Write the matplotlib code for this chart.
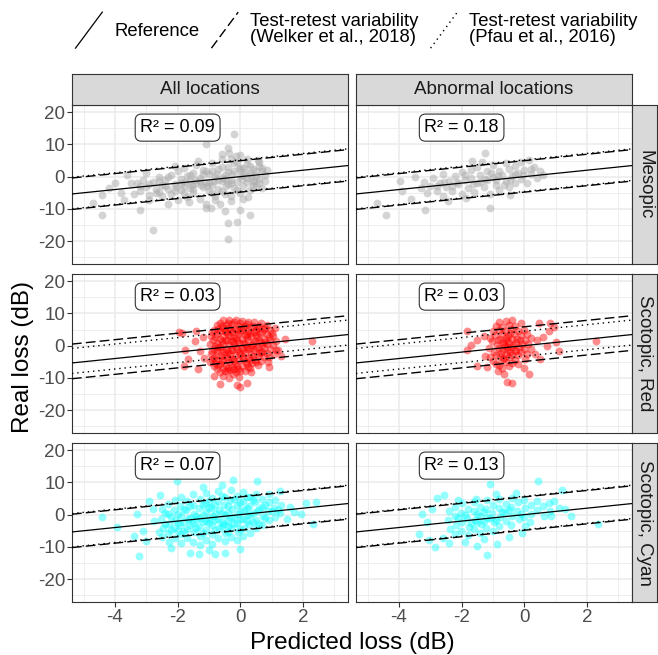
"""Predicted vs. real loss, faceted by condition and location subset."""

import numpy as np
import matplotlib
matplotlib.use("Agg")  # headless-safe backend
import matplotlib.pyplot as plt
from matplotlib.legend_handler import HandlerBase
from matplotlib.lines import Line2D

plt.rcParams["font.family"] = ["Liberation Sans", "DejaVu Sans"]
plt.rcParams["axes.unicode_minus"] = False

# ----- data -----------------------------------------------------------------
conditions = ["Mesopic", "Scotopic, Red", "Scotopic, Cyan"]
subsets = ["All locations", "Abnormal locations"]

# R^2 per condition: [all, abnormal]
r2_values = [[0.09, 0.18], [0.03, 0.03], [0.07, 0.13]]

# test-retest limits (offsets around the identity line), per condition
welker_upper = [4.95, 5.85, 5.5]
welker_lower = [-4.8, -4.9, -4.85]
pfau_upper = [5.2, 4.5, 5.7]
pfau_lower = [-4.6, -3.25, -4.65]

meso_all = [
    (-3.3, -2.1), (-3.2, -4.6), (-3.1, -0.9), (-3.0, -3.2), (-2.9, -5.8), (-2.8, -1.7),
    (-2.7, -3.9), (-2.6, -0.2), (-2.5, -6.1), (-2.5, -2.6), (-3.4, -5.3), (-2.9, -7.2),
    (-2.6, -4.8), (-3.0, 1.0), (-2.4, -1.1), (-2.3, -3.7), (-2.2, 0.6), (-2.2, -5.4),
    (-2.1, -2.3), (-2.0, -7.1), (-2.0, 1.8), (-1.9, -0.7), (-1.9, -4.2), (-1.8, -2.9),
    (-1.8, 2.6), (-1.7, -6.3), (-1.7, 0.1), (-1.6, -3.5), (-1.6, -1.4), (-2.3, -8.6),
    (-2.1, 3.2), (-1.65, -8.0), (-1.5, 1.2), (-1.5, -5.0), (-1.4, -2.1), (-1.4, 3.6),
    (-1.3, -0.4), (-1.3, -6.9), (-1.2, -3.3), (-1.2, 2.2), (-1.1, -1.6), (-1.1, -8.4),
    (-1.0, 0.9), (-1.0, -4.6), (-0.9, -2.6), (-0.9, 4.1), (-0.8, -0.2), (-0.8, -6.1),
    (-1.35, 5.0), (-0.95, -9.8), (-0.7, 2.3), (-0.7, -3.8), (-0.6, -1.2), (-0.6, 5.4),
    (-0.5, 0.4), (-0.5, -5.3), (-0.4, -2.4), (-0.4, 3.1), (-0.3, -0.9), (-0.3, -7.4),
    (-0.2, 1.6), (-0.2, -3.6), (-0.1, 4.6), (-0.1, -1.7), (0.0, 0.2), (0.0, -5.0),
    (-0.65, -8.5), (-0.15, 6.3), (-0.35, 7.2), (0.1, 2.7), (0.1, -2.8), (0.2, -0.5),
    (0.2, 4.0), (0.3, 1.1), (0.3, -4.1), (0.4, -1.6), (0.4, 2.5), (0.5, 0.3),
    (0.5, -2.9), (0.6, 3.4), (0.6, -0.8), (0.7, 1.6), (0.7, -3.5), (0.8, 0.4),
    (0.85, 2.2), (0.25, -6.2), (0.55, 5.2), (-1.75, -1.6), (-1.45, -0.9), (-1.25, -2.6),
    (-0.85, -1.3), (-0.55, -0.4), (-0.25, 0.8), (0.05, -0.8), (0.35, 0.1), (-0.45, -2.9),
    (-1.05, -3.0), (-1.55, -2.7), (-2.05, -3.3), (0.15, 1.3), (0.45, -1.0), (-0.75, 0.9),
    (-0.05, 2.4), (-3.2, -3.0), (-2.9, -2.4), (-2.7, -5.2), (-2.4, -3.0), (-2.3, -0.2),
    (-2.1, -4.4), (-1.9, -1.9), (-1.8, -5.0), (-1.6, 0.4), (-1.5, -3.9), (-1.3, -1.3),
    (-1.2, 0.8), (-1.0, -2.0), (-0.9, 1.6), (-0.9, -5.2), (-0.7, -1.0), (-0.6, 2.9),
    (-0.6, -4.3), (-0.4, 1.4), (-0.3, -2.0), (-0.2, 4.2), (-0.1, -4.1), (0.0, 2.6),
    (0.1, 0.6), (0.2, -1.7), (0.3, 3.2), (0.4, -3.0), (0.5, 1.6), (0.6, -1.9),
    (0.7, 2.8), (0.8, -1.2), (-0.5, -0.8), (-1.1, 1.9), (-2.6, -1.2), (-0.3, 5.6),
    (0.2, 5.6), (0.6, 4.6), (-0.8, -7.3), (0.1, -7.0), (-0.3, -5.9),
    (-0.2, 13.1), (-1.1, 10.0), (-0.4, 9.0), (-0.6, 7.0), (0.0, 6.8),
    (-0.4, -19.2), (-0.4, -14.5), (-0.1, -14.0), (-0.5, -10.8), (-2.8, -16.5), (-4.4, -11.9),
    (-4.7, -8.2), (-3.2, -10.3), (-1.1, -9.8), (0.0, -10.3), (0.3, -11.9), (-4.4, -5.6),
    (-4.0, -2.0), (-3.8, -5.1), (-3.5, -2.0), (-3.7, -7.2), (-4.2, -3.5), (-3.6, 0.4),
]

meso_abn = [
    (-3.3, -3.6), (-3.2, -1.6), (-3.1, -5.2), (-3.0, -2.8), (-2.9, -0.4), (-2.8, -4.4),
    (-2.7, -2.0), (-2.6, -6.0), (-2.6, 0.8), (-2.5, -3.1), (-2.4, -1.2), (-2.3, -4.6),
    (-2.2, 0.3), (-2.1, -2.4), (-2.0, -5.3), (-2.0, 1.5), (-1.9, -1.0), (-1.8, -3.4),
    (-1.7, 2.2), (-1.7, -0.3), (-1.6, -4.8), (-1.5, -1.9), (-1.5, 3.0), (-1.4, 0.4),
    (-1.3, -3.2), (-1.2, 1.6), (-1.2, -1.1), (-1.1, -5.4), (-1.0, 3.6), (-1.0, -0.2),
    (-0.9, -2.6), (-0.8, 1.9), (-0.8, -4.1), (-0.7, 0.6), (-0.6, 4.1), (-0.6, -1.5),
    (-0.5, 2.3), (-0.5, -3.3), (-0.4, 0.1), (-0.3, 3.2), (-0.3, -2.0), (-0.2, 1.2),
    (-0.1, -0.8), (-0.1, 4.4), (0.0, 2.1), (0.1, -1.9), (0.2, 0.8), (0.3, 3.0),
    (0.4, -0.5), (0.5, 1.6), (-1.85, -6.6), (-2.45, -7.4), (-0.45, -5.6), (-1.35, 4.6),
    (0.15, 5.3), (-2.15, -1.6), (-1.65, -2.2), (-1.25, -0.6), (-0.85, 0.3), (-0.45, -0.9),
    (-0.05, 0.5), (-1.05, 1.0), (-2.55, -1.8), (-0.65, -2.6), (-2.3, -2.9), (-1.9, 0.4),
    (-1.4, -1.6), (-0.9, -1.1), (-0.3, 0.9), (0.2, 2.3), (-2.8, -2.9), (0.6, 0.4),
    (-4.4, -11.9), (-4.7, -8.2),
    (-3.16, -10.3), (-1.09, -9.8), (-1.25, 7.4), (-1.66, 5.0), (-3.96, -1.5), (-3.9, -4.4),
    (-3.6, -6.8), (-3.5, -0.2),
]

red_all = [
    (-0.95, 3.1), (-0.96, 0.4), (-0.94, -2.5), (-0.97, -5.2),
    (-0.85, 5.0), (-0.86, 1.7), (-0.84, -1.0), (-0.85, -3.9), (-0.83, -6.4),
    (-0.75, 6.3), (-0.76, 3.6), (-0.74, 0.9), (-0.75, -1.8), (-0.77, -4.6), (-0.73, -7.2),
    (-0.65, 7.1), (-0.66, 4.6), (-0.64, 2.2), (-0.65, -0.4), (-0.63, -3.1), (-0.66, -5.8),
    (-0.64, -8.3), (-0.55, 7.8), (-0.56, 5.4), (-0.54, 3.0), (-0.55, 0.5), (-0.53, -2.0),
    (-0.56, -4.4), (-0.54, -6.9), (-0.55, -9.4), (-0.45, 6.5), (-0.46, 4.1), (-0.44, 1.6),
    (-0.45, -0.9), (-0.43, -3.5), (-0.46, -6.0), (-0.44, -8.0), (-0.35, 7.9), (-0.36, 5.6),
    (-0.34, 2.9), (-0.35, 0.2), (-0.33, -2.6), (-0.36, -5.1), (-0.34, -7.6), (-0.35, -10.1),
    (-0.25, 6.8), (-0.26, 4.3), (-0.24, 1.5), (-0.25, -1.3), (-0.23, -4.0), (-0.26, -6.6),
    (-0.24, -8.9), (-0.15, 8.1), (-0.16, 5.1), (-0.14, 2.4), (-0.15, -0.5), (-0.13, -3.0),
    (-0.16, -5.6), (-0.14, -8.1), (-0.05, 6.2), (-0.06, 3.5), (-0.04, 0.8), (-0.05, -1.9),
    (-0.03, -4.6), (-0.06, -7.3), (-0.04, -9.6), (0.05, 7.6), (0.04, 4.8), (0.06, 2.0),
    (0.05, -0.8), (0.07, -3.5), (0.04, -6.2), (0.15, 6.0), (0.14, 3.2), (0.16, 0.4),
    (0.15, -2.3), (0.17, -5.0), (0.14, -7.8), (0.25, 7.4), (0.24, 4.5), (0.26, 1.6),
    (0.25, -1.1), (0.27, -3.9), (0.24, -6.6), (0.35, 5.8), (0.34, 2.9), (0.36, 0.1),
    (0.35, -2.6), (0.37, -5.4), (0.34, -8.2), (0.45, 7.2), (0.44, 4.3), (0.46, 1.3),
    (0.45, -1.5), (0.47, -4.3), (0.55, 5.6), (0.54, 2.6), (0.56, -0.3), (0.55, -3.1),
    (0.57, -6.0), (0.65, 6.9), (0.64, 3.9), (0.66, 1.0), (0.65, -1.9), (0.67, -4.8),
    (0.75, 5.2), (0.74, 2.2), (0.76, -0.6), (0.75, -3.4), (0.85, 6.4), (0.84, 3.5),
    (0.86, 0.6), (0.85, -2.3), (0.87, -5.0), (0.95, 4.7), (0.94, 1.8), (0.96, -1.0),
    (1.05, 3.0), (1.04, 0.2), (1.06, -2.7), (1.15, 1.5), (1.14, -1.4),
    (-0.6, 1.4), (-0.5, -3.0), (-0.4, 3.6), (-0.3, -1.4), (-0.2, -4.7), (-0.1, 1.6),
    (0.0, 4.1), (0.1, -1.5), (0.2, 2.6), (0.3, -4.6), (0.4, 0.7), (0.5, 3.4),
    (0.6, -2.3), (0.7, 0.3), (-0.7, -2.9), (-0.8, 2.7), (-0.2, 0.4), (0.2, -0.4),
    (-0.9, 4.2), (-0.9, -1.6), (-0.9, -4.0), (-0.8, 0.0), (-0.8, -5.3), (-0.7, 5.1),
    (-0.7, -0.5), (-0.7, -6.0), (-0.6, 6.2), (-0.6, -1.0), (-0.6, -4.8), (-0.5, 4.6),
    (-0.5, 1.8), (-0.5, -7.8), (-0.4, 6.9), (-0.4, -2.0), (-0.4, -6.8), (-0.3, 4.7),
    (-0.3, 1.5), (-0.3, -4.0), (-0.2, 7.4), (-0.2, 2.8), (-0.2, -7.1), (-0.1, 5.0),
    (-0.1, -0.9), (-0.1, -6.2), (0.0, 6.9), (0.0, -2.6), (0.0, -8.0), (0.1, 5.6),
    (0.1, 0.9), (0.1, -4.2), (0.2, 6.6), (0.2, 3.6), (0.2, -5.6), (0.3, 4.0),
    (0.3, -0.6), (0.3, -7.0), (0.4, 6.0), (0.4, -3.2), (0.5, 5.0), (0.5, -0.8),
    (0.5, -5.2), (0.6, 6.2), (0.6, 1.6), (0.7, 4.3), (0.7, -2.0), (0.8, 5.5),
    (0.8, 1.0), (0.9, 2.6), (0.9, -3.6), (1.0, 4.0),
    (-1.87, 3.8), (-1.95, 4.2), (-1.75, -1.2), (-1.45, 1.5), (-1.66, -4.2), (-1.34, -7.3),
    (-0.64, -11.8), (-0.1, -12.3), (0.0, -12.8), (0.2, -11.5), (1.44, 2.2), (2.3, 1.5),
    (1.2, -1.2), (-1.8, -6.2), (-1.28, -1.7), (-1.2, 2.6), (-1.15, -3.9), (1.3, -3.3),
    (1.1, 5.5), (0.9, -6.5), (-0.85, -9.5), (-1.4, 4.4),
]

red_abn = [
    (-1.1, 2.4), (-1.12, -0.8), (-1.08, -3.6), (-1.0, 4.6), (-1.02, 1.3), (-0.98, -1.9),
    (-1.01, -4.9), (-0.9, 6.1), (-0.92, 3.3), (-0.88, 0.2), (-0.91, -2.8), (-0.89, -5.6),
    (-0.8, 7.2), (-0.82, 4.8), (-0.78, 2.1), (-0.81, -0.6), (-0.79, -3.4), (-0.8, -6.1),
    (-0.7, 5.9), (-0.72, 3.6), (-0.68, 1.0), (-0.71, -1.5), (-0.69, -4.2), (-0.7, -7.0),
    (-0.6, 7.6), (-0.62, 4.5), (-0.58, 2.3), (-0.61, -0.2), (-0.59, -2.6), (-0.6, -5.1),
    (-0.5, 6.4), (-0.52, 3.1), (-0.48, 0.9), (-0.51, -1.2), (-0.49, -3.6), (-0.5, -6.3),
    (-0.4, 7.9), (-0.42, 5.2), (-0.38, 2.0), (-0.41, -0.5), (-0.39, -2.9), (-0.4, -5.4),
    (-0.3, 6.0), (-0.32, 3.7), (-0.28, 1.1), (-0.31, -1.8), (-0.29, -4.3),
    (-0.2, 4.6), (-0.22, 2.1), (-0.18, -0.4), (-0.21, -3.0), (-0.19, -5.8),
    (-0.1, 6.9), (-0.12, 3.2), (-0.08, 0.6), (-0.11, -2.1), (0.0, 5.0), (0.02, 1.8),
    (-0.02, -1.0), (0.01, -4.0), (0.1, 3.6), (0.12, 0.4), (0.08, -2.7), (0.2, 2.3),
    (0.22, -0.9), (-0.65, 0.4), (-0.45, -1.9), (-0.35, 0.2), (-0.55, 1.6), (-0.75, -2.2),
    (-0.85, 1.6), (-0.45, 4.0), (-0.25, -1.2), (-0.65, -3.8), (-0.15, 1.9), (-0.55, -0.5),
    (-1.83, 4.4), (-1.5, 1.8), (-1.83, -1.2), (-1.51, -6.3), (-1.19, -6.5), (-0.66, -8.8),
    (-0.55, -11.3), (-0.39, -11.5), (0.15, -8.8), (-0.01, -6.8), (0.46, 6.9), (0.83, 7.1),
    (0.78, 4.4), (0.95, 5.7), (1.09, -1.7), (0.72, -0.2), (2.3, 1.5), (0.51, -4.2),
    (0.4, 1.8), (-1.3, 3.0), (-1.25, -3.3), (0.35, -2.5), (0.6, 2.8), (-0.85, -8.0),
    (-1.7, 0.3), (1.0, 1.2),
]

cyan_all = [
    (-2.5, 1.6), (-2.52, -1.4), (-2.48, -4.2), (-2.51, -7.0),
    (-2.3, 3.4), (-2.32, 0.1), (-2.28, -2.8), (-2.31, -5.6), (-2.29, -8.4),
    (-2.1, 4.5), (-2.12, 1.3), (-2.08, -1.6), (-2.11, -4.3), (-2.09, -7.3),
    (-1.9, 5.6), (-1.92, 2.6), (-1.88, -0.3), (-1.91, -3.2), (-1.89, -6.0), (-1.9, -8.9),
    (-1.7, 4.2), (-1.72, 1.4), (-1.68, -1.5), (-1.71, -4.6), (-1.69, -7.4),
    (-1.5, 6.3), (-1.52, 3.0), (-1.48, 0.2), (-1.51, -2.6), (-1.49, -5.3), (-1.5, -8.6),
    (-1.3, 4.8), (-1.32, 1.9), (-1.28, -0.9), (-1.31, -3.8), (-1.29, -6.7), (-1.3, -9.4),
    (-1.1, 6.8), (-1.12, 3.6), (-1.08, 0.8), (-1.11, -1.9), (-1.09, -4.9), (-1.1, -7.8),
    (-0.9, 5.1), (-0.92, 2.3), (-0.88, -0.4), (-0.91, -3.2), (-0.89, -6.0), (-0.9, -9.0),
    (-0.7, 7.2), (-0.72, 4.2), (-0.68, 1.4), (-0.71, -1.4), (-0.69, -4.2), (-0.7, -7.1),
    (-0.5, 5.6), (-0.52, 2.9), (-0.48, 0.0), (-0.51, -2.8), (-0.49, -5.6), (-0.5, -8.3),
    (-0.3, 7.6), (-0.32, 4.4), (-0.28, 1.6), (-0.31, -1.2), (-0.29, -4.0), (-0.3, -6.9),
    (-0.1, 5.9), (-0.12, 3.1), (-0.08, 0.3), (-0.11, -2.5), (-0.09, -5.3), (-0.1, -8.0),
    (0.1, 7.0), (0.08, 4.2), (0.12, 1.5), (0.09, -1.3), (0.11, -4.1), (0.1, -6.6),
    (0.3, 5.4), (0.28, 2.6), (0.32, -0.2), (0.29, -3.0), (0.31, -5.6),
    (0.5, 6.5), (0.48, 3.8), (0.52, 1.1), (0.49, -1.6), (0.51, -4.3),
    (0.7, 5.0), (0.68, 2.3), (0.72, -0.5), (0.69, -3.2),
    (0.9, 3.9), (0.88, 1.2), (0.92, -1.8), (1.1, 4.6), (1.08, 2.0), (1.12, -0.6),
    (1.3, 3.1), (1.28, 0.4),
    (-1.6, -1.0), (-1.6, -3.2), (-1.0, -1.0), (-1.0, -2.6), (-1.0, 1.9), (-0.4, 0.6),
    (-0.4, -1.9), (-0.4, -3.4), (0.2, 0.0), (0.2, -2.0), (-2.0, -2.5), (-1.4, -1.6),
    (-0.8, 0.4), (-0.2, -0.8), (0.4, 0.5), (-1.2, 0.0), (-0.6, -2.2), (0.0, 1.2),
    (-2.4, -3.0), (-2.2, -0.8), (-2.2, -4.9), (-2.0, 0.3), (-2.0, -5.2), (-1.8, 1.8),
    (-1.8, -2.2), (-1.8, -5.0), (-1.6, 2.6), (-1.4, -0.4), (-1.4, -4.3), (-1.2, 3.0),
    (-1.2, -2.3), (-1.2, -5.6), (-1.0, 4.3), (-0.8, -1.8), (-0.8, -4.8), (-0.8, 3.1),
    (-0.6, 0.6), (-0.6, -3.4), (-0.6, 5.8), (-0.4, 2.6), (-0.4, -5.4), (-0.2, 4.8),
    (-0.2, -2.9), (0.0, -1.5), (0.0, 3.6), (0.0, -4.6), (0.2, 5.6), (0.2, 2.2),
    (0.4, -2.2), (0.4, 4.6), (0.6, 1.8), (0.6, -3.0), (0.8, 3.0), (0.8, -1.0),
    (1.0, 1.0), (1.2, 1.4), (-2.6, -5.5), (-2.4, 0.6),
    (-4.42, -0.8), (-3.94, -3.9), (-3.23, -12.7), (-3.3, 0.2), (-2.9, 4.3), (-2.56, 6.2),
    (-2.03, 10.5), (-0.23, 10.7), (0.53, 10.3), (1.28, 7.4), (2.08, 3.5), (2.4, 3.8),
    (1.92, 0.2), (2.32, -2.9), (-1.6, -12.0), (-0.8, -12.2), (-0.48, -12.0), (-1.33, -12.2),
    (0.0, -10.6), (-3.4, -6.5), (-3.0, -8.2), (-2.75, -2.0), (1.6, 2.4), (1.5, -1.5),
    (-1.0, -11.0), (-2.2, -10.4), (-3.1, -5.0), (-2.8, 1.8), (-1.2, 8.5), (-0.6, 9.2),
    (0.9, 6.5), (1.7, 0.9),
]

cyan_abn = [
    (-2.4, 1.0), (-2.42, -1.8), (-2.38, -4.6), (-2.2, 2.4), (-2.22, -0.5), (-2.18, -3.3),
    (-2.21, -6.0), (-2.0, 3.5), (-2.02, 0.6), (-1.98, -2.2), (-2.01, -5.1), (-1.8, 1.8),
    (-1.82, -1.0), (-1.78, -3.8), (-1.81, -6.4), (-1.6, 3.9), (-1.62, 1.1), (-1.58, -1.7),
    (-1.61, -4.5), (-1.4, 2.5), (-1.42, -0.3), (-1.38, -3.0), (-1.41, -5.8), (-1.2, 4.4),
    (-1.22, 1.6), (-1.18, -1.2), (-1.21, -4.0), (-1.0, 3.1), (-1.02, 0.4), (-0.98, -2.4),
    (-1.01, -5.2), (-0.8, 4.9), (-0.82, 2.0), (-0.78, -0.8), (-0.81, -3.5), (-0.6, 3.4),
    (-0.62, 0.8), (-0.58, -1.9), (-0.4, 5.2), (-0.42, 2.5), (-0.38, -0.3), (-0.41, -3.1),
    (-0.2, 3.8), (-0.22, 1.2), (-0.18, -1.5), (0.0, 4.6), (0.02, 2.0), (-0.02, -0.6),
    (0.01, -3.4), (0.2, 3.0), (0.22, 0.3), (0.18, -2.2), (0.4, 4.2), (0.42, 1.5),
    (0.6, 2.7), (0.62, -0.3), (0.8, 3.6), (0.82, 1.0), (-1.9, -0.2), (-1.5, 0.3),
    (-1.1, -0.9), (-0.7, 0.9), (-1.7, -2.6), (-1.3, 0.7), (-2.1, -1.2), (-1.5, -2.3),
    (-0.9, -1.6), (-0.5, 1.5), (-0.1, 0.2), (-1.3, -2.0),
    (0.43, 10.5), (-1.1, 9.5), (-2.78, 5.1), (-2.57, 6.2), (-1.55, 4.8), (-0.27, 6.6),
    (1.2, 7.6), (-3.27, 0.2), (-3.09, -2.4), (-3.37, -6.0), (-3.05, -8.0), (-2.84, -10.1),
    (-1.51, -9.6), (-1.19, -12.4), (-0.87, -9.1), (-0.07, -5.8), (0.84, -0.3), (1.48, -0.3),
    (2.36, -2.9), (0.95, 4.2), (-2.6, -7.2), (-1.9, -8.6), (-0.5, -7.0), (-2.95, 1.8),
    (1.1, 2.0), (-0.9, 6.4), (-2.1, 4.6), (1.3, 1.6), (-1.3, -7.5), (-2.4, -8.8),
]

points = [[meso_all, meso_abn], [red_all, red_abn], [cyan_all, cyan_abn]]
point_colors = ["#ABABAB", "#FF0000", "#00FFFF"]
point_alphas = [0.5, 0.45, 0.42]

# ----- layout (figure fractions) ---------------------------------------------
X_LIM = (-5.37, 3.42)
Y_LIM = (-27.1, 22.2)
col_left = [0.1094, 0.5410]
row_bottom = [0.5969, 0.3389, 0.0809]
PANEL_W = 0.4188
PANEL_H = 0.2427
DARK = "#333333"


class DiagonalKey(HandlerBase):
    """ggplot-style abline key: a line running corner to corner."""

    def create_artists(self, legend, orig_handle, xdescent, ydescent,
                       width, height, fontsize, trans):
        key_h = 1.95 * fontsize
        yc = -ydescent + height / 2
        key = Line2D([-xdescent, -xdescent + width],
                     [yc - key_h / 2, yc + key_h / 2])
        key.update_from(orig_handle)
        key.set_transform(trans)
        return [key]


fig = plt.figure(figsize=(6.58, 6.55), dpi=100)

for i, cond in enumerate(conditions):
    for j, subset in enumerate(subsets):
        ax = fig.add_axes([col_left[j], row_bottom[i], PANEL_W, PANEL_H])
        pts = np.array(points[i][j])
        ax.scatter(pts[:, 0], pts[:, 1], s=32, color=point_colors[i],
                   alpha=point_alphas[i], linewidths=0, zorder=2)

        ax.axline((0, 0), slope=1, color="black", lw=0.9, zorder=3)
        for off in (welker_upper[i], welker_lower[i]):
            ax.axline((0, off), slope=1, color="black", lw=1.0,
                      dashes=(7, 3), zorder=3)
        for off in (pfau_upper[i], pfau_lower[i]):
            ax.axline((0, off), slope=1, color="black", lw=1.0,
                      dashes=(1, 2.8), zorder=3)

        ax.text(-2.0, 15.2, f"R\u00b2 = {r2_values[i][j]:.2f}",
                ha="center", va="center", fontsize=13, color="black",
                bbox=dict(boxstyle="round,pad=0.28,rounding_size=0.35",
                          fc="white", ec=DARK, lw=0.8), zorder=4)

        ax.set_xlim(*X_LIM)
        ax.set_ylim(*Y_LIM)
        ax.set_xticks([-4, -2, 0, 2])
        ax.set_xticks([-5, -3, -1, 1, 3], minor=True)
        ax.set_yticks([-20, -10, 0, 10, 20])
        ax.set_yticks([-25, -15, -5, 5, 15], minor=True)
        ax.grid(which="major", color="#EBEBEB", lw=1.1, zorder=0)
        ax.grid(which="minor", color="#EBEBEB", lw=0.6, zorder=0)
        ax.set_axisbelow(True)
        ax.tick_params(which="major", length=3.5, width=0.8, color=DARK,
                       labelsize=13.5, labelcolor="#4D4D4D", pad=1.5)
        ax.tick_params(which="minor", length=0)
        if i < len(conditions) - 1:
            ax.tick_params(axis="x", which="major", length=0, labelbottom=False)
        if j > 0:
            ax.tick_params(axis="y", which="major", length=0, labelleft=False)
        for sp in ax.spines.values():
            sp.set_color(DARK)
            sp.set_linewidth(0.8)

        # top strip (first row only)
        if i == 0:
            st = fig.add_axes([col_left[j], row_bottom[0] + PANEL_H, PANEL_W, 0.0473])
            st.set_facecolor("#D9D9D9")
            st.set_xticks([])
            st.set_yticks([])
            for sp in st.spines.values():
                sp.set_color(DARK)
                sp.set_linewidth(0.8)
            st.text(0.5, 0.5, subset, ha="center", va="center",
                    fontsize=13.5, color="#1A1A1A", transform=st.transAxes)

    # right strip
    rs = fig.add_axes([0.9605, row_bottom[i], 0.0385, PANEL_H])
    rs.set_facecolor("#D9D9D9")
    rs.set_xticks([])
    rs.set_yticks([])
    for sp in rs.spines.values():
        sp.set_color(DARK)
        sp.set_linewidth(0.8)
    rs.text(0.5, 0.5, cond, ha="center", va="center", rotation=-90,
            fontsize=13.5, color="#1A1A1A", transform=rs.transAxes)

fig.text(0.535, 0.0185, "Predicted loss (dB)", ha="center", va="center",
         fontsize=17.5)
fig.text(0.035, 0.455, "Real loss (dB)", ha="center", va="center",
         rotation=90, fontsize=17.5)

handles = [
    Line2D([], [], color="black", lw=0.9),
    Line2D([], [], color="black", lw=1.0, dashes=(7, 3)),
    Line2D([], [], color="black", lw=1.0, dashes=(1, 2.8)),
]
labels = [
    "Reference",
    "Test-retest variability\n(Welker et al., 2018)",
    "Test-retest variability\n(Pfau et al., 2016)",
]
leg = fig.legend(handles, labels, loc="center", bbox_to_anchor=(0.542, 0.954),
                 ncol=3, frameon=False, fontsize=13.3, handlelength=1.45,
                 handleheight=2.6, handletextpad=0.65, columnspacing=0.65,
                 handler_map={Line2D: DiagonalKey()})
for t in leg.get_texts():
    t.set_linespacing(0.95)

fig.savefig("out.png", dpi=100)
